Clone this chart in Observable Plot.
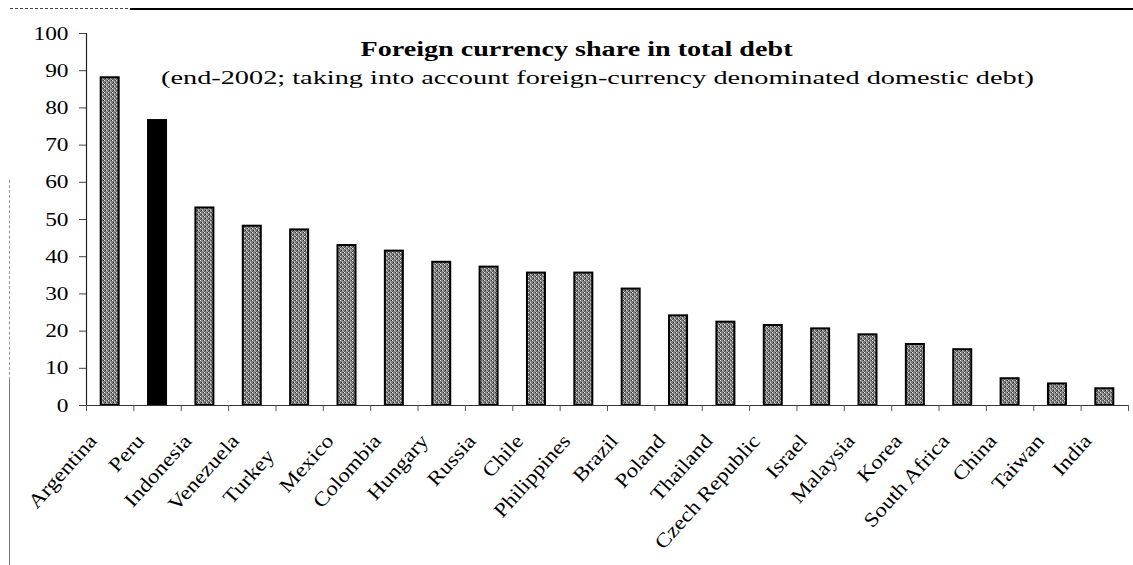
<!DOCTYPE html>
<html><head><meta charset="utf-8">
<script src="https://cdn.jsdelivr.net/npm/d3@7"></script>
<script src="https://cdn.jsdelivr.net/npm/@observablehq/plot@0.6"></script>
<style>
html,body{margin:0;padding:0;background:#fff;}
#wrap{position:relative;width:1133px;height:565px;overflow:hidden;background:#fff;}
.deco{position:absolute;}
</style></head><body>
<div id="wrap">
  <div class="deco" style="left:10px;top:8px;width:118px;height:0;border-top:1.5px dashed #444;"></div>
  <div class="deco" style="left:130px;top:8px;width:1003px;height:0;border-top:2px solid #000;"></div>
  <div class="deco" style="left:9px;top:180px;width:0;height:200px;border-left:1.5px dashed #999;"></div>
  <div class="deco" style="left:9px;top:380px;width:0;height:185px;border-left:1.5px solid #777;"></div>
</div>
<script>
const countries = ["Argentina","Peru","Indonesia","Venezuela","Turkey","Mexico","Colombia","Hungary","Russia","Chile","Philippines","Brazil","Poland","Thailand","Czech Republic","Israel","Malaysia","Korea","South Africa","China","Taiwan","India"];
const shares = [88.1,76.6,53.1,48.2,47.2,43.0,41.5,38.5,37.2,35.6,35.6,31.3,24.1,22.4,21.5,20.6,19.0,16.4,15.0,7.2,5.8,4.5];
const highlighted = "Peru";
const yTicks = [0,10,20,30,40,50,60,70,80,90,100];
const titleText = "Foreign currency share in total debt";
const subtitleText = "(end-2002; taking into account foreign-currency denominated domestic debt)";

const data = countries.map((c, i) => ({country: c, index: i, share: shares[i]}));
const boundaries = d3.range(0, countries.length + 1);
const centers = countries.map((c, i) => i + 0.5);

const chart = Plot.plot({
  width: 1133,
  height: 565,
  marginLeft: 86,
  marginRight: 5,
  marginTop: 33,
  marginBottom: 160,
  style: {fontFamily: "Liberation Serif", fontSize: "18px", color: "#000", background: "transparent"},
  x: {type: "linear", domain: [0, countries.length]},
  y: {domain: [0, 100]},
  marks: [
    Plot.rectY(data.filter(d => d.country !== highlighted), {
      x1: d => d.index + 0.31, x2: d => d.index + 0.69, y1: 0, y2: "share",
      fill: "url(#dither)", stroke: "#000", strokeWidth: 2
    }),
    Plot.rectY(data.filter(d => d.country === highlighted), {
      x1: d => d.index + 0.31, x2: d => d.index + 0.69, y1: 0, y2: "share",
      fill: "#000", stroke: "#000", strokeWidth: 2
    }),
    Plot.ruleX([0], {stroke: "#222", strokeWidth: 1.2}),
    Plot.ruleY([0], {stroke: "#333", strokeWidth: 1.2}),
    Plot.axisY({ticks: yTicks, tickSize: 7, tickPadding: 11, fontSize: 19, label: null, stroke: "#444"}),
    Plot.axisX({ticks: boundaries, tickFormat: () => "", tickSize: 6, label: null, stroke: "#555"}),
    Plot.axisX({ticks: centers, tickFormat: d => countries[Math.round(d - 0.5)], tickSize: 0, tickPadding: 32,
      tickRotate: -48, dx: -17, fontSize: 20, label: null}),
    Plot.text([titleText], {frameAnchor: "top", text: d => d, dx: -31, dy: 8, fontSize: 20, fontWeight: "bold"}),
    Plot.text([subtitleText], {frameAnchor: "top", text: d => d, dx: -10, dy: 37, fontSize: 19})
  ]
});

const wrap = document.getElementById("wrap");
chart.style.position = "absolute";
chart.style.left = "0px";
chart.style.top = "0px";
wrap.appendChild(chart);

const svg = d3.select(chart);
const defs = svg.insert("defs", ":first-child");
const pat = defs.append("pattern").attr("id", "dither").attr("patternUnits", "userSpaceOnUse")
  .attr("width", 4).attr("height", 4);
pat.append("rect").attr("width", 4).attr("height", 4).attr("fill", "#7c7c7c");
[[0,0,"#e8e8e8"],[2,2,"#d0d0d0"],[1,2,"#2a2a2a"],[3,0,"#3a3a3a"],[2,1,"#a8a8a8"],[0,3,"#555"],[3,3,"#b0b0b0"]]
  .forEach(([x, y, c]) => pat.append("rect").attr("x", x).attr("y", y).attr("width", 1).attr("height", 1).attr("fill", c));

svg.selectAll("text").each(function() {
  const t = this.textContent;
  const L = this.getComputedTextLength();
  let target = null;
  if (t === titleText) target = 432;
  else if (t === subtitleText) target = 873;
  else if (countries.includes(t)) target = L * 1.15;
  else if (/^\d+$/.test(t)) target = L * 1.23;
  if (target && L > 0) {
    this.setAttribute("textLength", target);
    this.setAttribute("lengthAdjust", "spacingAndGlyphs");
  }
  if (t === "Turkey") {
    const tr = this.getAttribute("transform") || "";
    this.setAttribute("transform", "translate(-12,15) " + tr);
  }
});
</script>
</body></html>
